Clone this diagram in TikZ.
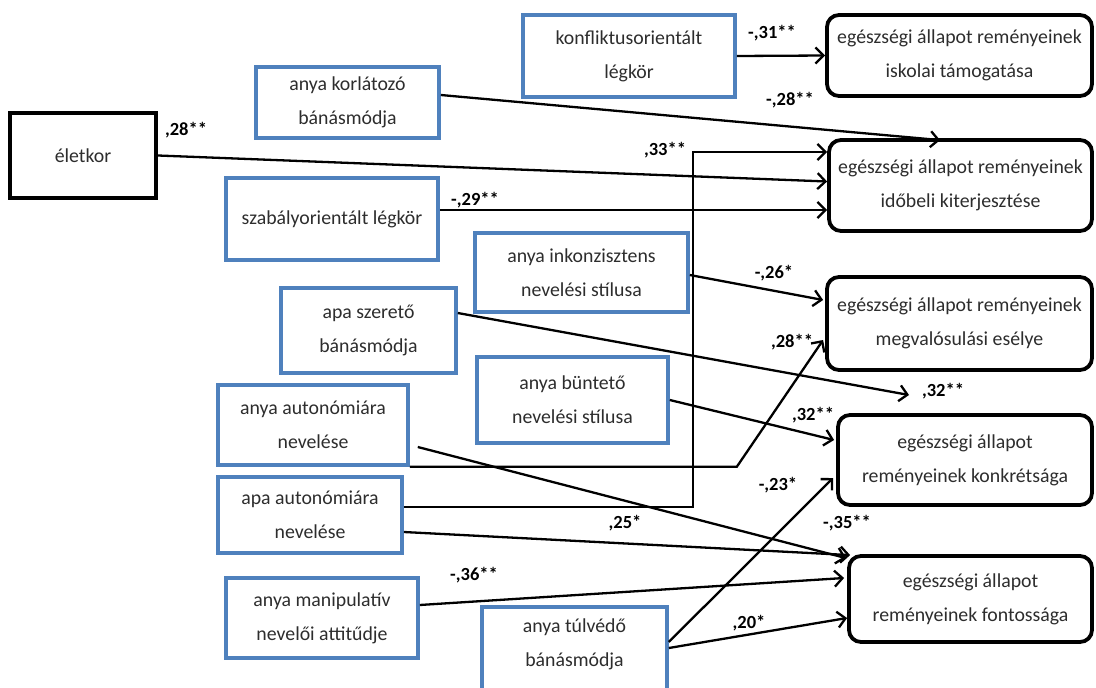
\documentclass[tikz,border=0pt]{standalone}
\usepackage{fontspec}
\setmainfont{Carlito}
\usetikzlibrary{arrows.meta,calc}
\definecolor{srcblue}{RGB}{79,129,189}
\definecolor{txtgray}{RGB}{45,45,45}
\begin{document}
\begin{tikzpicture}[x=1pt,y=-1pt,
  txtfont/.style={font=\fontsize{19.8}{34}\selectfont, text=txtgray},
  srcbox/.style={draw=srcblue, line width=3.6pt, align=center, inner sep=0pt, txtfont},
  tgtbox/.style={draw=black, line width=3.8pt, rounded corners=12pt, align=center, inner sep=0pt, txtfont},
  agebox/.style={draw=black, line width=4pt, align=center, inner sep=0pt, txtfont},
  arr/.style={line width=2.3pt, -{Straight Barb[length=8pt,width=16pt,line width=2.3pt]}},
  conn/.style={line width=2.3pt},
  lbl/.style={font=\fontsize{18.5}{20}\selectfont\bfseries, inner sep=0pt}]
\useasboundingbox (0,0) rectangle (1096,688);
\fill[white] (0,0) rectangle (1096,688);

% source boxes
\node[srcbox, minimum width=212pt, minimum height=82pt] (konfl) at (629,56) {konfliktusorientált\\légkör};
\node[srcbox, minimum width=183pt, minimum height=71pt] (korlat) at (347.5,102.5) {anya korlátozó\\bánásmódja};
\node[agebox, minimum width=146pt, minimum height=85pt] (eletkor) at (83,155.5) {életkor};
\node[srcbox, minimum width=212pt, minimum height=82pt] (szab) at (332,219) {szabályorientált légkör};
\node[srcbox, minimum width=213pt, minimum height=79pt] (inkonz) at (581.5,272.5) {anya inkonzisztens\\nevelési stílusa};
\node[srcbox, minimum width=175pt, minimum height=85pt] (apasz) at (368.5,330.5) {apa szerető\\bánásmódja};
\node[srcbox, minimum width=191pt, minimum height=86pt] (bunt) at (572.5,400) {anya büntető\\nevelési stílusa};
\node[srcbox, minimum width=190pt, minimum height=80pt] (anyaaut) at (313,425) {anya autonómiára\\nevelése};
\node[srcbox, minimum width=184pt, minimum height=76pt] (apaaut) at (310,515) {apa autonómiára\\nevelése};
\node[srcbox, minimum width=192pt, minimum height=80pt] (manip) at (322,618) {anya manipulatív\\nevelői attitűdje};
\node[srcbox, minimum width=185pt, minimum height=98pt] (tulved) at (574.5,656) {};
\node[txtfont, align=center, inner sep=0pt] (tulvedtxt) at (574.5,644) {anya túlvédő\\bánásmódja};

% target boxes
\node[tgtbox, minimum width=265pt, minimum height=81pt] (T1) at (959.5,55.5) {egészségi állapot reményeinek\\iskolai támogatása};
\node[tgtbox, minimum width=263pt, minimum height=91pt] (T2) at (960.5,185.5) {egészségi állapot reményeinek\\időbeli kiterjesztése};
\node[tgtbox, minimum width=265pt, minimum height=93pt] (T3) at (959.5,323.5) {egészségi állapot reményeinek\\megvalósulási esélye};
\node[tgtbox, minimum width=254pt, minimum height=90pt] (T4) at (965,460) {egészségi állapot\\reményeinek konkrétsága};
\node[tgtbox, minimum width=243pt, minimum height=86pt] (T5) at (970.5,599) {egészségi állapot\\reményeinek fontossága};

\coordinate (szend) at (909,395);

% connectors
\draw[arr] (konfl.east) -- (T1.west);
\draw[arr] ($(korlat.east)+(0,-7.5)$) -- ($(T2.north west)+(113,2)$);
\draw[arr] (eletkor.east) -- ($(T2.west)+(0,-4)$);
\draw[arr] ($(szab.east)+(0,-9)$) -- ($(T2.west)+(0,24.5)$);
\draw[arr] ($(apaaut.east)+(0,-8)$) -| ($(T2.west)+(-134,-33.5)$) -- ($(T2.west)+(0,-33.5)$);
\draw[arr] ($(apaaut.east)+(0,17)$) -- ($(T5.north west)+(3,1)$);
\draw[arr] ($(anyaaut.east)+(8,22)$) -- ($(T5.north west)+(-1,4)$);
\draw[arr] (anyaaut.south east) -- ($(anyaaut.south east)+(327,0)$) -- ($(T3.west)+(-2,16.5)$);
\draw[arr] ($(inkonz.east)+(0,2.5)$) -- ($(T3.west)+(-2,-23.5)$);
\draw[arr] ($(apasz.east)+(0,-17.5)$) -- (szend);
\draw[arr] (bunt.east) -- ($(T4.west)+(-2,-20)$);
\draw[arr] ($(tulved.east)+(0,-14)$) -- ($(T4.west)+(-3,18)$);
\draw[arr] ($(tulved.east)+(0,-8)$) -- ($(T5.west)+(0,19)$);
\draw[arr] ($(manip.east)+(0,-13)$) -- ($(T5.west)+(-3,-21)$);

% labels
\node[lbl] (l1) at (772,33) {-,31**};
\node[lbl] (l2) at (790,100) {-,28**};
\node[lbl] (l3) at (186,130) {,28**};
\node[lbl] (l4) at (665,150) {,33**};
\node[lbl] (l5) at (475,200) {-,29**};
\node[lbl] (l6) at (774,273) {-,26*};
\node[lbl] (l7) at (792,342) {,28**};
\node[lbl] (l8) at (943,391) {,32**};
\node[lbl] (l9) at (813,415) {,32**};
\node[lbl] (l10) at (778,485) {-,23*};
\node[lbl] (l11) at (625,523) {,25*};
\node[lbl] (l12) at (847,523) {-,35**};
\node[lbl] (l13) at (474,575) {-,36**};
\node[lbl] (l14) at (749,623) {,20*};
\end{tikzpicture}
\end{document}
